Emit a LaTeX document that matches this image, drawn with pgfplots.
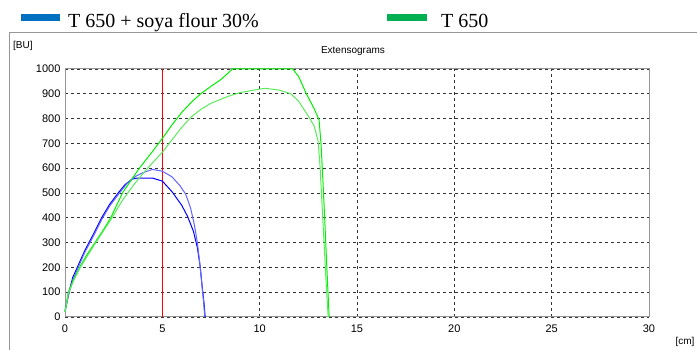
\documentclass[border=0pt]{standalone}
\usepackage{pgfplots}
\pgfplotsset{compat=1.18}
\usepackage{fontspec}
\setmainfont{Liberation Sans}
\newfontfamily\seriffont{Liberation Serif}
\definecolor{legblue}{RGB}{0,112,192}
\definecolor{leggreen}{RGB}{0,176,80}
\definecolor{framegray}{RGB}{150,150,150}
\definecolor{blueA}{RGB}{0,0,255}
\definecolor{blueB}{RGB}{100,100,255}
\definecolor{greenA}{RGB}{0,240,0}
\definecolor{greenB}{RGB}{90,235,90}
\begin{document}
\begin{tikzpicture}[x=1pt,y=1pt]
\path[use as bounding box] (0,0) rectangle (697,350);
\draw[framegray, line width=1pt] (9,0) -- (9,317) -- (697,317);
\fill[legblue] (21,329) rectangle (60,336);
\node[anchor=base west, inner sep=0pt, font=\seriffont\fontsize{20}{24}\selectfont] at (68,322) {T 650 + soya flour 30\%};
\fill[leggreen] (387,329) rectangle (427,336);
\node[anchor=base west, inner sep=0pt, font=\seriffont\fontsize{20}{24}\selectfont] at (441,322) {T 650};
\node[anchor=west, inner sep=0pt, font=\fontsize{10}{12}\selectfont] at (13,304) {[BU]};
\node[inner sep=0pt, font=\fontsize{10}{12}\selectfont] at (353,299) {Extensograms};
\node[inner sep=0pt, font=\fontsize{10}{12}\selectfont] at (685,8) {[cm]};
\begin{axis}[
  at={(65pt,33pt)}, anchor=south west,
  scale only axis, width=584pt, height=248pt,
  xmin=0, xmax=30, ymin=0, ymax=1000,
  xtick={0,5,...,30}, ytick={0,100,...,1000},
  grid=major,
  grid style={black!80, line width=0.8pt, dash pattern=on 3pt off 3pt},
  axis line style={framegray, line width=1pt},
  tick style={draw=none},
  ticklabel style={font=\fontsize{11}{12}\selectfont},
  /pgf/number format/assume math mode=true,
  /pgf/number format/1000 sep={},
  yticklabel style={xshift=-1pt},
  xticklabel style={yshift=-4pt},
  clip=false,
]
\addplot[red, line width=1pt] coordinates {(5,0) (5,1000)};
% blue curve 1 (lower peak)
\addplot[blueA, line width=1pt] coordinates {
(0,25)(0.2,100)(0.4,160)(0.63,200)(1,265)(1.23,300)(1.5,340)(1.88,400)(2.3,455)(2.78,505)(3.1,535)(3.45,556)(3.7,560)(4.5,560)(5,548)(5.5,505)(6,450)(6.3,405)(6.6,345)(6.8,280)(6.95,200)(7.05,120)(7.15,50)(7.2,0)};
% blue curve 2 (higher peak)
\addplot[blueB, line width=1pt] coordinates {
(0,20)(0.2,92)(0.4,150)(0.65,195)(1,258)(1.25,295)(1.55,340)(1.9,395)(2.3,448)(2.8,500)(3.2,540)(3.6,566)(4,582)(4.5,595)(5,588)(5.5,565)(5.9,530)(6.2,495)(6.45,440)(6.65,370)(6.8,300)(6.92,220)(7.02,140)(7.12,60)(7.18,0)};
% green curve 1 (plateau 1000)
\addplot[greenA, line width=1pt] coordinates {
(0,20)(0.17,100)(0.45,152)(0.75,200)(1.1,248)(1.54,300)(2,355)(2.35,400)(2.95,500)(3.4,552)(3.82,600)(4.5,668)(5,720)(5.5,775)(6,825)(6.5,867)(7,902)(7.5,930)(8,957)(8.3,978)(8.6,1000)(11.7,1000)(12,970)(12.4,900)(12.8,840)(13.05,795)(13.15,700)(13.25,550)(13.35,380)(13.45,200)(13.57,0)};
% green curve 2 (peak ~920)
\addplot[greenB, line width=1pt] coordinates {
(0,20)(0.17,95)(0.45,148)(0.75,195)(1.1,240)(1.54,295)(2,350)(2.35,392)(2.95,470)(3.5,530)(4,578)(4.5,622)(5,664)(5.5,715)(6,765)(6.5,808)(7,838)(7.5,862)(8,878)(8.5,893)(9,905)(9.5,912)(10,919)(10.3,922)(11,915)(11.6,900)(12,870)(12.5,810)(12.8,770)(13,710)(13.1,610)(13.2,460)(13.3,310)(13.4,160)(13.52,0)};
\end{axis}
\end{tikzpicture}
\end{document}
